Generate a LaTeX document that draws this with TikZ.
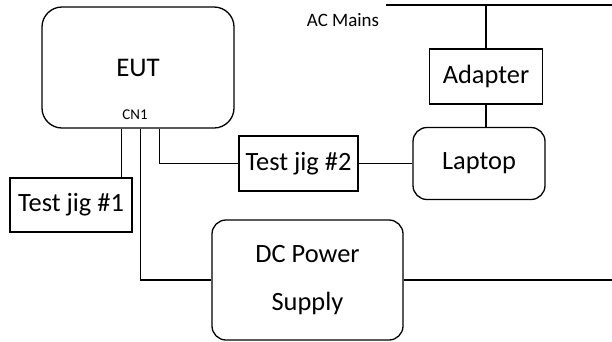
\documentclass[tikz,border=0pt]{standalone}
\usepackage{fontspec}
\setmainfont{Carlito}
\begin{document}
\begin{tikzpicture}[x=1bp,y=-1bp,
  box/.style={draw,line width=1.3bp,rectangle,inner sep=0pt,font=\fontsize{26.5}{30}\selectfont},
  rbox/.style={box,rounded corners=14bp},
  wire/.style={line width=1.3bp},
  small/.style={inner sep=0pt}]
\useasboundingbox (0,0) rectangle (612,341);
\node[rbox,rounded corners=20bp,minimum width=192bp,minimum height=121bp] (eut) at (138,67.5) {};
\node[font=\fontsize{27}{30}\selectfont,inner sep=0pt] (eutt) at (138,68) {EUT};
\node[small,font=\fontsize{15}{17}\selectfont] (cn1) at (135,115) {CN1};
\node[box,minimum width=122bp,minimum height=54bp] (tj1) at (71,205) {Test jig \#1};
\node[box,minimum width=119bp,minimum height=55bp] (tj2) at (298.5,163.5) {Test jig \#2};
\node[box,minimum width=113bp,minimum height=55bp] (ad) at (486,76.5) {Adapter};
\node[rbox,minimum width=132bp,minimum height=72bp] (lap) at (479,163.5) {Laptop};
\node[rbox,minimum width=191bp,minimum height=120bp,align=center,font=\fontsize{26.5}{48}\selectfont] (dc) at (307.5,280) {DC Power\\Supply};
\node[small,font=\fontsize{19}{22}\selectfont] (acm) at (343,20) {AC Mains};
\coordinate (m1) at (386,5);
\coordinate (m2) at (612,5);
\draw[line width=2bp] (m1) -- (m2);
\draw[wire] (ad.north) -- (ad.north |- m1);
\draw[wire] (ad.south) -- (ad.south |- lap.north);
\draw[wire] (tj2.east) -- (tj2.east -| lap.west);
\draw[wire] ([xshift=80bp]eut.south west) -- ([xshift=80bp]eut.south west |- tj1.north);
\draw[wire] ([xshift=99bp]eut.south west) |- (dc.west);
\draw[wire] ([xshift=118bp]eut.south west) |- (tj2.west);
\draw[wire] (dc.east) -- (dc.east -| m2);
\end{tikzpicture}
\end{document}
